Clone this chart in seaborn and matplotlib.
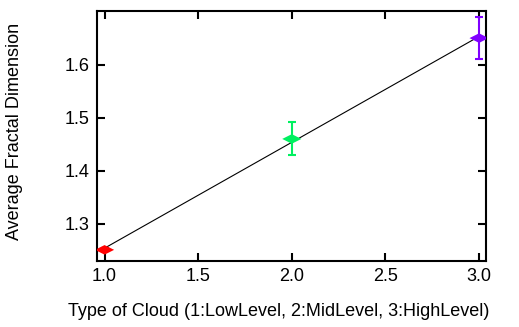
import matplotlib
matplotlib.use("Agg")
import matplotlib.pyplot as plt
from matplotlib.path import Path
import seaborn as sns
import numpy as np
import pandas as pd

cloud_type = [1.0, 2.0, 3.0]
avg_fd = [1.251, 1.460, 1.650]
fd_err = [0.003, 0.031, 0.039]
colors = ["#ff0000", "#00f060", "#8000ff"]
x_ticks = [1.0, 1.5, 2.0, 2.5, 3.0]
y_ticks = [1.3, 1.4, 1.5, 1.6]

sns.set_style("ticks")
plt.rcParams['font.family'] = ['Liberation Sans', 'DejaVu Sans']
plt.rcParams['text.color'] = 'black'
plt.rcParams['axes.labelcolor'] = 'black'
plt.rcParams['xtick.color'] = 'black'
plt.rcParams['ytick.color'] = 'black'
plt.rcParams['axes.edgecolor'] = 'black'

df = pd.DataFrame({"type": cloud_type, "fd": avg_fd, "err": fd_err, "c": colors})

flat_diamond = Path([(-1, 0), (0, 0.5), (1, 0), (0, -0.5), (-1, 0)],
                    [Path.MOVETO, Path.LINETO, Path.LINETO, Path.LINETO, Path.CLOSEPOLY])

fig = plt.figure(figsize=(5.19, 3.27), dpi=100)
ax = fig.add_axes([96.5/519, 1 - 261/327, (486 - 96.5)/519, (261 - 10.5)/327])

sns.regplot(data=df, x="type", y="fd", scatter=False, ci=None, truncate=True,
            color="black", line_kws={"linewidth": 0.8}, ax=ax)
for _, r in df.iterrows():
    ax.errorbar(r["type"], r["fd"], yerr=r["err"], fmt="none", ecolor=r["c"],
                elinewidth=1.5, capsize=2.6, capthick=1.5, zorder=3)
sns.scatterplot(data=df, x="type", y="fd", hue="c", palette=colors, marker=flat_diamond,
                s=190, edgecolor="none", legend=False, zorder=4, ax=ax)

ax.set_xlim(0.957, 3.037)
ax.set_ylim(1.230, 1.702)
ax.set_xticks(x_ticks)
ax.set_yticks(y_ticks)
ax.set_xticklabels([f"{v:.1f}" for v in x_ticks])
ax.set_yticklabels([f"{v:.1f}" for v in y_ticks])
ax.tick_params(direction="in", length=6, width=1.5, top=True, right=True,
               labeltop=False, labelright=False, labelsize=13, pad=5)
for s in ax.spines.values():
    s.set_linewidth(1.5)
    s.set_visible(True)
ax.set_xlabel("Type of Cloud (1:LowLevel, 2:MidLevel, 3:HighLevel)", fontsize=13)
ax.set_ylabel("Average Fractal Dimension", fontsize=13)
ax.xaxis.set_label_coords(0.4685, -0.168)
ax.yaxis.set_label_coords(-0.189, 0.517)

fig.savefig("out.png", dpi=100)
